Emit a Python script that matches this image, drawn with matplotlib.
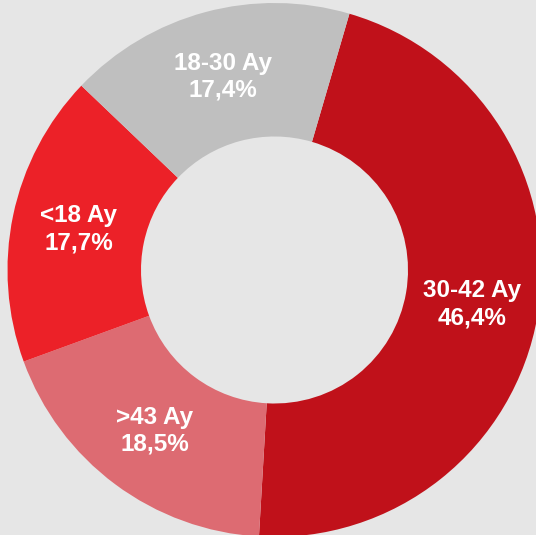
import matplotlib
matplotlib.use('Agg')
import matplotlib.pyplot as plt

# age groups and their share (%), clockwise from the top-right
groups = ['30-42 Ay', '>43 Ay', '<18 Ay', '18-30 Ay']
shares = [46.4, 18.5, 17.7, 17.4]
colors = ['#C0111A', '#DD6B72', '#EC2128', '#BFBFBF']

bg = '#E6E6E6'

fig = plt.figure(figsize=(5.36, 5.35), dpi=100, facecolor=bg)
ax = fig.add_axes([0, 0, 1, 1])
ax.set_facecolor(bg)

wedges, texts, autotexts = ax.pie(
    shares, colors=colors, startangle=73.7, counterclock=False,
    radius=1.0, autopct='%1.1f', pctdistance=0.75,
    wedgeprops=dict(width=0.5, linewidth=0),
    textprops=dict(color='white', fontsize=17.5, fontweight='bold',
                   family=['Liberation Sans', 'DejaVu Sans']))

for t, g, s in zip(autotexts, groups, shares):
    t.set_text(g + '\n' + ('%.1f' % s).replace('.', ',') + '%')
    t.set_linespacing(1.22)

# place the ring like in the reference (centre slightly right/below middle)
ax.set_aspect('auto')
ax.set_xlim(-274.5 / 267, (536 - 274.5) / 267)
ax.set_ylim(-265 / 267, (535 - 265) / 267)
ax.axis('off')

fig.savefig('out.png', dpi=100, facecolor=bg)
